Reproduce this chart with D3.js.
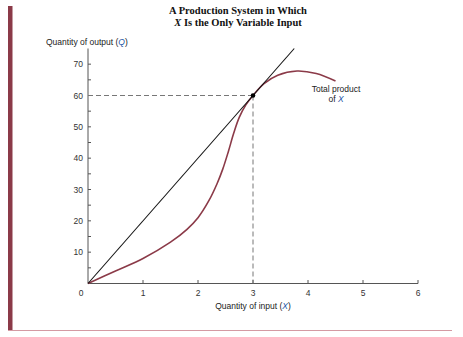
<!DOCTYPE html>
<html><head><meta charset="utf-8">
<script src="https://cdn.jsdelivr.net/npm/d3@7"></script>
<style>body{margin:0;background:#fff}svg{display:block}</style>
</head><body>
<script>
// Data
const titleLines = ["A Production System in Which", "X Is the Only Variable Input"];
const xTicks = [0, 1, 2, 3, 4, 5, 6];
const yTicks = [10, 20, 30, 40, 50, 60, 70];
const yMinorTicks = [5, 15, 25, 35, 45, 55, 65];
const tpX = [0, 0.5, 1, 1.5, 1.8, 2.0, 2.2, 2.35, 2.45, 2.55, 2.65, 2.75, 2.87, 3, 3.2, 3.45, 3.8, 4.15, 4.5];
const tpY = [0, 4.0, 8, 13.2, 17.3, 21.0, 26.5, 32, 36.5, 42, 48, 53, 57, 60, 63.8, 66.5, 67.8, 67, 64.6];
const rayX = [0, 3.75];
const rayY = [0, 75];
const tangentPoint = [3, 60];

const W = 463, H = 337;
const svg = d3.select("body").append("svg").attr("width", W).attr("height", H);
const maroon = "#8b3a48";
const blue = "#2456a6";

// frame decoration
svg.append("rect").attr("x", 8).attr("y", 6).attr("width", 4.5).attr("height", 325).attr("fill", maroon);
svg.append("line").attr("x1", 8).attr("x2", 452).attr("y1", 330.5).attr("y2", 330.5)
  .attr("stroke", "#d49aa3").attr("stroke-width", 1);

const x = d3.scaleLinear().domain([0, 6]).range([88, 418]);
const y = d3.scaleLinear().domain([0, 75]).range([283.5, 48.5]);

// Title
const t = svg.append("text").attr("text-anchor", "middle")
  .attr("font-family", "Liberation Serif, Times New Roman, serif").attr("font-weight", "bold")
  .attr("font-size", 10.5).attr("fill", "#111");
t.append("tspan").attr("x", 238).attr("y", 14).text(titleLines[0]);
const l2 = t.append("tspan").attr("x", 238).attr("y", 26);
l2.append("tspan").attr("font-style", "italic").text("X");
l2.append("tspan").text(titleLines[1].slice(1));

// Axes
const sans = "Liberation Sans, Arial, Helvetica, sans-serif";
const fs = 8.5;
const g = svg.append("g").attr("font-family", sans);

// y axis
g.append("line").attr("x1", x(0)).attr("x2", x(0)).attr("y1", y(0)).attr("y2", y(75))
  .attr("stroke", "#555").attr("stroke-width", 1);
g.selectAll(".yt").data(yTicks.concat(yMinorTicks)).join("line")
  .attr("x1", x(0)).attr("x2", x(0) + 3).attr("y1", d => y(d)).attr("y2", d => y(d))
  .attr("stroke", "#555");
g.selectAll(".yl").data(yTicks).join("text")
  .attr("x", x(0) - 5).attr("y", d => y(d) + 3).attr("text-anchor", "end")
  .attr("font-size", fs).attr("fill", "#333").text(d => d);

// x axis
g.append("line").attr("x1", x(0)).attr("x2", x(6)).attr("y1", y(0)).attr("y2", y(0))
  .attr("stroke", "#555").attr("stroke-width", 1);
g.selectAll(".xt").data(xTicks.slice(1)).join("line")
  .attr("x1", d => x(d)).attr("x2", d => x(d)).attr("y1", y(0)).attr("y2", y(0) - 3.5)
  .attr("stroke", "#555");
g.selectAll(".xl").data(xTicks.slice(1)).join("text")
  .attr("x", d => x(d)).attr("y", y(0) + 12.5).attr("text-anchor", "middle")
  .attr("font-size", fs).attr("fill", "#333").text(d => d);
g.append("text").attr("x", x(0) - 7).attr("y", y(0) + 12.5).attr("text-anchor", "middle")
  .attr("font-size", fs).attr("fill", "#333").text(xTicks[0]);

// axis titles
const yt = g.append("text").attr("x", 46).attr("y", 44.5).attr("font-size", fs).attr("fill", "#222");
yt.append("tspan").text("Quantity of output (");
yt.append("tspan").attr("font-style", "italic").attr("fill", blue).text("Q");
yt.append("tspan").text(")");

const xt = g.append("text").attr("x", x(3)).attr("y", 309).attr("text-anchor", "middle")
  .attr("font-size", fs).attr("fill", "#222");
xt.append("tspan").text("Quantity of input (");
xt.append("tspan").attr("font-style", "italic").attr("fill", blue).text("X");
xt.append("tspan").text(")");

// dashed guides
svg.append("line").attr("x1", x(0)).attr("x2", x(tangentPoint[0])).attr("y1", y(tangentPoint[1])).attr("y2", y(tangentPoint[1]))
  .attr("stroke", "#777").attr("stroke-width", 1).attr("stroke-dasharray", "5,3");
svg.append("line").attr("x1", x(tangentPoint[0])).attr("x2", x(tangentPoint[0])).attr("y1", y(tangentPoint[1])).attr("y2", y(0))
  .attr("stroke", "#777").attr("stroke-width", 1).attr("stroke-dasharray", "5,3");

// total product curve
const tp = tpX.map((d, i) => [d, tpY[i]]);
svg.append("path").datum(tp)
  .attr("d", d3.line().x(d => x(d[0])).y(d => y(d[1])).curve(d3.curveCatmullRom.alpha(0.5)))
  .attr("fill", "none").attr("stroke", maroon).attr("stroke-width", 1.6);

// ray through origin
const ray = rayX.map((d, i) => [d, rayY[i]]);
svg.append("path").datum(ray)
  .attr("d", d3.line().x(d => x(d[0])).y(d => y(d[1])))
  .attr("fill", "none").attr("stroke", "#111").attr("stroke-width", 1.1);

// tangent point
svg.append("circle").attr("cx", x(tangentPoint[0])).attr("cy", y(tangentPoint[1])).attr("r", 2.3).attr("fill", "#000");

// curve label
const lab = svg.append("text").attr("font-family", sans).attr("font-size", fs).attr("fill", "#222").attr("text-anchor", "middle");
lab.append("tspan").attr("x", 336).attr("y", 92).text("Total product");
const ll = lab.append("tspan").attr("x", 336).attr("y", 102);
ll.append("tspan").text("of ");
ll.append("tspan").attr("font-style", "italic").attr("fill", blue).text("X");
</script>
</body></html>
